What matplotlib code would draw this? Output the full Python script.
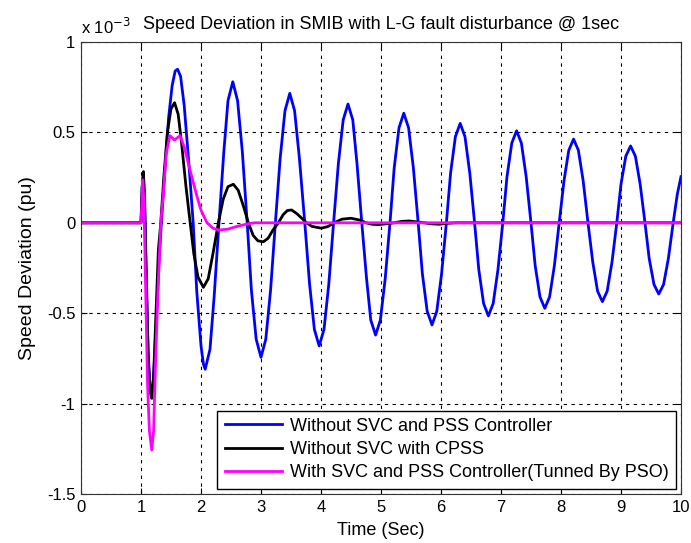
import numpy as np
import matplotlib
matplotlib.use("Agg")
import matplotlib.pyplot as plt

plt.rcParams['font.family'] = ['Liberation Sans', 'DejaVu Sans']

# speed deviation values in units of 1e-3 pu

# without SVC and PSS
t_blue = [0.0, 1.0, 1.02, 1.04, 1.06, 1.09, 1.12, 1.15, 1.18, 1.21, 1.25, 1.30, 1.34,
          1.40, 1.46, 1.52, 1.57, 1.61, 1.66, 1.72, 1.80, 1.87, 1.93, 2.00, 2.04, 2.07,
          2.15, 2.22, 2.30, 2.38, 2.45, 2.53,
          2.61, 2.69, 2.77, 2.84, 2.92, 3.00,
          3.08, 3.16, 3.24, 3.32, 3.40, 3.48,
          3.56, 3.64, 3.73, 3.81, 3.89, 3.97,
          4.05, 4.13, 4.21, 4.29, 4.37, 4.45,
          4.53, 4.60, 4.68, 4.76, 4.83, 4.91,
          4.99, 5.07, 5.15, 5.22, 5.30, 5.38,
          5.46, 5.54, 5.62, 5.69, 5.77, 5.85,
          5.93, 6.01, 6.09, 6.16, 6.24, 6.32,
          6.40, 6.48, 6.56, 6.63, 6.71, 6.79,
          6.87, 6.95, 7.03, 7.10, 7.18, 7.26,
          7.34, 7.42, 7.50, 7.57, 7.65, 7.73,
          7.81, 7.89, 7.97, 8.05, 8.13, 8.21,
          8.29, 8.37, 8.45, 8.53, 8.61, 8.69,
          8.77, 8.85, 8.93, 9.00, 9.08, 9.16,
          9.24, 9.32, 9.40, 9.47, 9.55, 9.63,
          9.71, 9.79, 9.87, 9.94, 10.0]
v_blue = [0.0, 0.0, 0.20, 0.27, 0.15, -0.30, -0.72, -0.90, -0.95, -0.86, -0.58, -0.22, 0.0,
          0.30, 0.58, 0.76, 0.84, 0.849, 0.81, 0.65, 0.32, 0.0, -0.38, -0.68, -0.78, -0.81,
          -0.70, -0.405, 0.0, 0.39, 0.675, 0.780,
          0.675, 0.39, 0.0, -0.372, -0.644, -0.744,
          -0.644, -0.372, 0.0, 0.358, 0.62, 0.716,
          0.62, 0.358, 0.0, -0.34, -0.59, -0.681,
          -0.59, -0.34, 0.0, 0.328, 0.569, 0.657,
          0.569, 0.328, 0.0, -0.31, -0.538, -0.621,
          -0.538, -0.31, 0.0, 0.303, 0.525, 0.606,
          0.525, 0.303, 0.0, -0.282, -0.489, -0.565,
          -0.489, -0.282, 0.0, 0.275, 0.476, 0.550,
          0.476, 0.275, 0.0, -0.258, -0.446, -0.515,
          -0.446, -0.258, 0.0, 0.255, 0.441, 0.509,
          0.441, 0.255, 0.0, -0.237, -0.41, -0.473,
          -0.41, -0.237, 0.0, 0.232, 0.401, 0.463,
          0.401, 0.232, 0.0, -0.218, -0.378, -0.436,
          -0.378, -0.218, 0.0, 0.213, 0.368, 0.425,
          0.368, 0.213, 0.0, -0.197, -0.341, -0.394,
          -0.341, -0.197, 0.0, 0.16, 0.255]

# without SVC, with CPSS
t_black = [0.0, 1.0, 1.02, 1.04, 1.06, 1.09, 1.12, 1.15, 1.18, 1.21, 1.25, 1.29, 1.33,
           1.38, 1.44, 1.50, 1.56, 1.62, 1.68, 1.75, 1.82, 1.88, 1.95, 2.04, 2.12, 2.20,
           2.29, 2.37, 2.45, 2.54, 2.62, 2.70, 2.79, 2.87, 2.95, 3.04, 3.12, 3.20, 3.29,
           3.37, 3.44, 3.51, 3.60, 3.68, 3.76, 3.85, 4.01, 4.12, 4.22, 4.35, 4.50, 4.65,
           4.75, 4.85, 4.96, 5.10, 5.22, 5.35, 5.47, 5.60, 5.72, 5.85, 5.97, 6.10, 6.25,
           10.0]
v_black = [0.0, 0.0, 0.20, 0.283, 0.10, -0.35, -0.75, -0.93, -0.971, -0.85, -0.50, -0.15, 0.0,
           0.25, 0.50, 0.63, 0.664, 0.60, 0.43, 0.20, 0.0, -0.17, -0.30, -0.357, -0.31, -0.17,
           0.0, 0.13, 0.20, 0.213, 0.18, 0.10, 0.0, -0.07, -0.10, -0.105, -0.085, -0.04, 0.0,
           0.045, 0.068, 0.071, 0.05, 0.025, 0.0, -0.02, -0.03, -0.02, 0.0, 0.02, 0.025, 0.015,
           0.0, -0.008, -0.01, -0.005, 0.0, 0.008, 0.01, 0.005, 0.0, -0.006, -0.008, -0.003, 0.0,
           0.0]

# with SVC and PSS tuned by PSO
t_mag = [0.0, 1.0, 1.015, 1.03, 1.05, 1.08, 1.11, 1.14, 1.18, 1.21, 1.24, 1.28, 1.33,
         1.37, 1.42, 1.48, 1.56, 1.65, 1.72, 1.78, 1.85, 1.93, 2.00, 2.10, 2.20, 2.30,
         2.45, 2.60, 2.75, 2.88, 10.0]
v_mag = [0.0, 0.0, 0.10, 0.237, 0.10, -0.40, -0.90, -1.15, -1.257, -1.15, -0.80, -0.40, 0.0,
         0.15, 0.38, 0.482, 0.458, 0.482, 0.42, 0.34, 0.25, 0.15, 0.07, 0.0, -0.03, -0.04,
         -0.035, -0.02, -0.008, 0.0, 0.0]

labels = ["Without SVC and PSS Controller",
          "Without SVC with CPSS",
          "With SVC and PSS Controller(Tunned By PSO)"]

fig = plt.figure(figsize=(6.91, 5.43), dpi=100)
ax = fig.add_axes([0.1172, 0.0902, 0.8683, 0.8325])

ax.plot(t_blue, v_blue, color=(0, 0, 1), lw=2, label=labels[0])
ax.plot(t_black, v_black, color='k', lw=2, label=labels[1])
ax.plot(t_mag, v_mag, color=(1, 0, 1), lw=2, label=labels[2])

ax.set_xlim(0, 10)
ax.set_ylim(-1.5, 1)
ax.set_xticks(np.arange(0, 11, 1))
ax.set_yticks([-1.5, -1, -0.5, 0, 0.5, 1])
ax.set_yticklabels(["-1.5", "-1", "-0.5", "0", "0.5", "1"])
ax.tick_params(direction='in', top=True, right=True, labelsize=12, length=4, pad=4)
ax.grid(True, color='k', linestyle=(0, (3, 4)), lw=0.8)
for s in ax.spines.values():
    s.set_linewidth(0.8)
    s.set_color('#333333')

ax.set_xlabel("Time (Sec)", fontsize=13, labelpad=5)
ax.set_ylabel("Speed Deviation (pu)", fontsize=14, labelpad=8)
ax.set_title("Speed Deviation in SMIB with L-G fault disturbance @ 1sec", fontsize=13, pad=9)
ax.text(0.0, 1.01, r"x 10$^{-3}$", transform=ax.transAxes, fontsize=12, va='bottom')

leg = ax.legend(loc='lower right', fontsize=13, fancybox=False, framealpha=1,
                edgecolor='k', handlelength=3.2, handletextpad=0.4, borderpad=0.4,
                borderaxespad=0.3, labelspacing=0.35)
leg.get_frame().set_linewidth(1.0)

fig.savefig("out.png", dpi=100)
